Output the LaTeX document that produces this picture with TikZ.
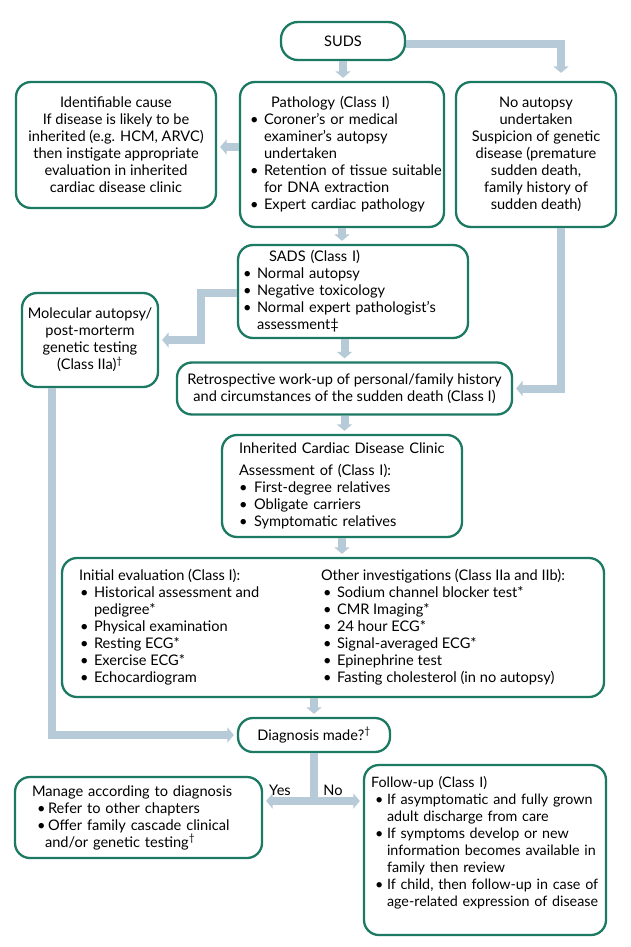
\documentclass[tikz,border=0pt]{standalone}
\usepackage{fontspec}
\setmainfont{Lato}
\usetikzlibrary{arrows.meta}
\definecolor{boxline}{HTML}{1C7A63}
\definecolor{flowc}{HTML}{B6CAD8}
\newcommand{\bptx}[2]{\par\noindent\hspace*{#1}\makebox[\dimexpr#2-#1\relax][l]{\textbullet}}
\newcommand{\bpt}{\bptx{0pt}{14pt}}
\newcommand{\nl}[1]{\newline\hspace*{#1}}
\newcommand{\fA}{\fontsize{14.6}{17}\selectfont}
\newcommand{\fB}{\fontsize{14.3}{17}\selectfont}
\begin{document}
\begin{tikzpicture}[x=1pt,y=-1pt,
  box/.style={draw=boxline, line width=2.3pt, rounded corners=15pt, fill=white, inner sep=0pt, font=\fA},
  txt/.style={inner sep=0pt, anchor=west, align=left, font=\fA},
  flow/.style={draw=flowc, line width=8pt, -{Triangle[width=15pt,length=6.5pt]}, shorten >=3pt},
  plainflow/.style={draw=flowc, line width=8pt},
  lbl/.style={font=\fA, inner sep=0pt}]
\useasboundingbox (0,0) rectangle (630,947);
\fill[white] (0,0) rectangle (630,947);

% boxes
\node[box, minimum width=124pt, minimum height=38pt, rounded corners=17pt] (suds) at (343,41) {SUDS};
\node[box, minimum width=200pt, minimum height=126pt, align=center] (ident) at (116,145) {Identifiable cause\\If disease is likely to be\\inherited (e.g. HCM, ARVC)\\then instigate appropriate\\evaluation in inherited\\cardiac disease clinic};
\node[box, minimum width=204pt, minimum height=145pt] (path) at (342,154.5) {};
\node[box, minimum width=160pt, minimum height=145pt, align=center] (noaut) at (536,154.5) {No autopsy\\undertaken\\Suspicion of genetic\\disease (premature\\sudden death,\\family history of\\sudden death)};
\node[box, minimum width=230pt, minimum height=93pt] (sads) at (353,291.5) {};
\node[box, minimum width=136pt, minimum height=94pt, align=center] (mol) at (90,340) {Molecular autopsy/\\post-morterm\\genetic testing\\(Class IIa)\textsuperscript{\textdagger}};
\node[box, minimum width=335pt, minimum height=52pt, align=center] (retro) at (344.5,388.5) {Retrospective work-up of personal/family history\\and circumstances of the sudden death (Class I)};
\node[box, minimum width=240pt, minimum height=102pt] (icdc) at (342,486) {};
\node[box, minimum width=542pt, minimum height=139pt] (init) at (333,627.5) {};
\node[box, minimum width=152pt, minimum height=34pt] (diag) at (314,735) {Diagnosis made?\textsuperscript{\textdagger}};
\node[box, minimum width=247pt, minimum height=81pt] (manage) at (138.5,817.5) {};
\node[box, minimum width=242pt, minimum height=170pt] (follow) at (485,850) {};

% texts of bulleted boxes
\node[txt, text width=200pt] (pathtxt) at ([xshift=11pt]path.west) {\hspace*{21pt}Pathology (Class I)\bpt Coroner's or medical\nl{14pt}examiner's autopsy\nl{14pt}undertaken\bpt Retention of tissue suitable\nl{14pt}for DNA extraction\bpt Expert cardiac pathology\par};
\node[txt, text width=220pt] (sadstxt) at ([xshift=6pt]sads.west) {\hspace*{26pt}SADS (Class I)\bpt Normal autopsy\bpt Negative toxicology\bpt Normal expert pathologist's\nl{14pt}assessment\textdaggerdbl\par};
\node[txt, text width=220pt] (icdctxt) at ([xshift=18pt]icdc.west) {Inherited Cardiac Disease Clinic\par\vspace{5pt}Assessment of (Class I):\bptx{0pt}{15pt}First-degree relatives\bptx{0pt}{15pt}Obligate carriers\bptx{0pt}{15pt}Symptomatic relatives\par};
\node[txt] (inittxt) at ([xshift=18pt]init.west) {\begin{minipage}[t]{242pt}\raggedright Initial evaluation (Class I):\bptx{1pt}{15pt}Historical assessment and\nl{15pt}pedigree*\bptx{1pt}{15pt}Physical examination\bptx{1pt}{15pt}Resting ECG*\bptx{1pt}{15pt}Exercise ECG*\bptx{1pt}{15pt}Echocardiogram\par\end{minipage}\begin{minipage}[t]{270pt}\raggedright Other investigations (Class IIa and IIb):\bptx{2pt}{16pt}Sodium channel blocker test*\bptx{2pt}{16pt}CMR Imaging*\bptx{2pt}{16pt}24 hour ECG*\bptx{2pt}{16pt}Signal-averaged ECG*\bptx{2pt}{16pt}Epinephrine test\bptx{2pt}{16pt}Fasting cholesterol (in no autopsy)\par\end{minipage}};
\node[txt, text width=225pt] (managetxt) at ([xshift=18pt]manage.west) {Manage according to diagnosis\bptx{5pt}{16pt}Refer to other chapters\bptx{5pt}{16pt}Offer family cascade clinical\nl{13pt}and/or genetic testing\textsuperscript{\textdagger}\par};
\node[txt, text width=236pt, anchor=north west, font=\fB] (followtxt) at ([xshift=8pt,yshift=-12pt]follow.north west) {Follow-up (Class I)\bptx{4pt}{16pt}If asymptomatic and fully grown\nl{16pt}adult discharge from care\bptx{4pt}{16pt}If symptoms develop or new\nl{16pt}information becomes available in\nl{16pt}family then review\bptx{4pt}{16pt}If child, then follow-up in case of\nl{16pt}age-related expression of disease\par};

% connectors
\coordinate (a1) at (0,147);
\coordinate (a2) at (201,293);
\coordinate (a3) at (314,801);
\draw[flow] (suds.south) -- (suds.south |- path.north);
\draw[flow, shorten >=8pt] ([yshift=-3pt]suds.east) -| ([xshift=25pt]noaut.north);
\draw[flow] (path.west |- a1) -- (ident.east |- a1);
\draw[flow] (path.south) -- (path.south |- sads.north);
\draw[flow] (sads.west |- a2) -- (a2) |- (mol.east);
\draw[flow] (retro.north |- sads.south) -- (retro.north);
\draw[flow] ([xshift=25pt]noaut.south) |- (retro.east);
\draw[flow] (retro.south) -- (retro.south |- icdc.north);
\draw[flow] (icdc.south) -- (icdc.south |- init.north);
\draw[flow] (diag.north |- init.south) -- (diag.north);
\draw[flow] ([xshift=-38pt]mol.south) |- (diag.west);
\draw[plainflow] (diag.south) -- (a3);
\draw[flow] (a3) -- (manage.east |- a3);
\draw[flow] (a3) -- (follow.west |- a3);
\node[lbl] (yes) at (280,790) {Yes};
\node[lbl] (no) at (333,790) {No};
\end{tikzpicture}
\end{document}
